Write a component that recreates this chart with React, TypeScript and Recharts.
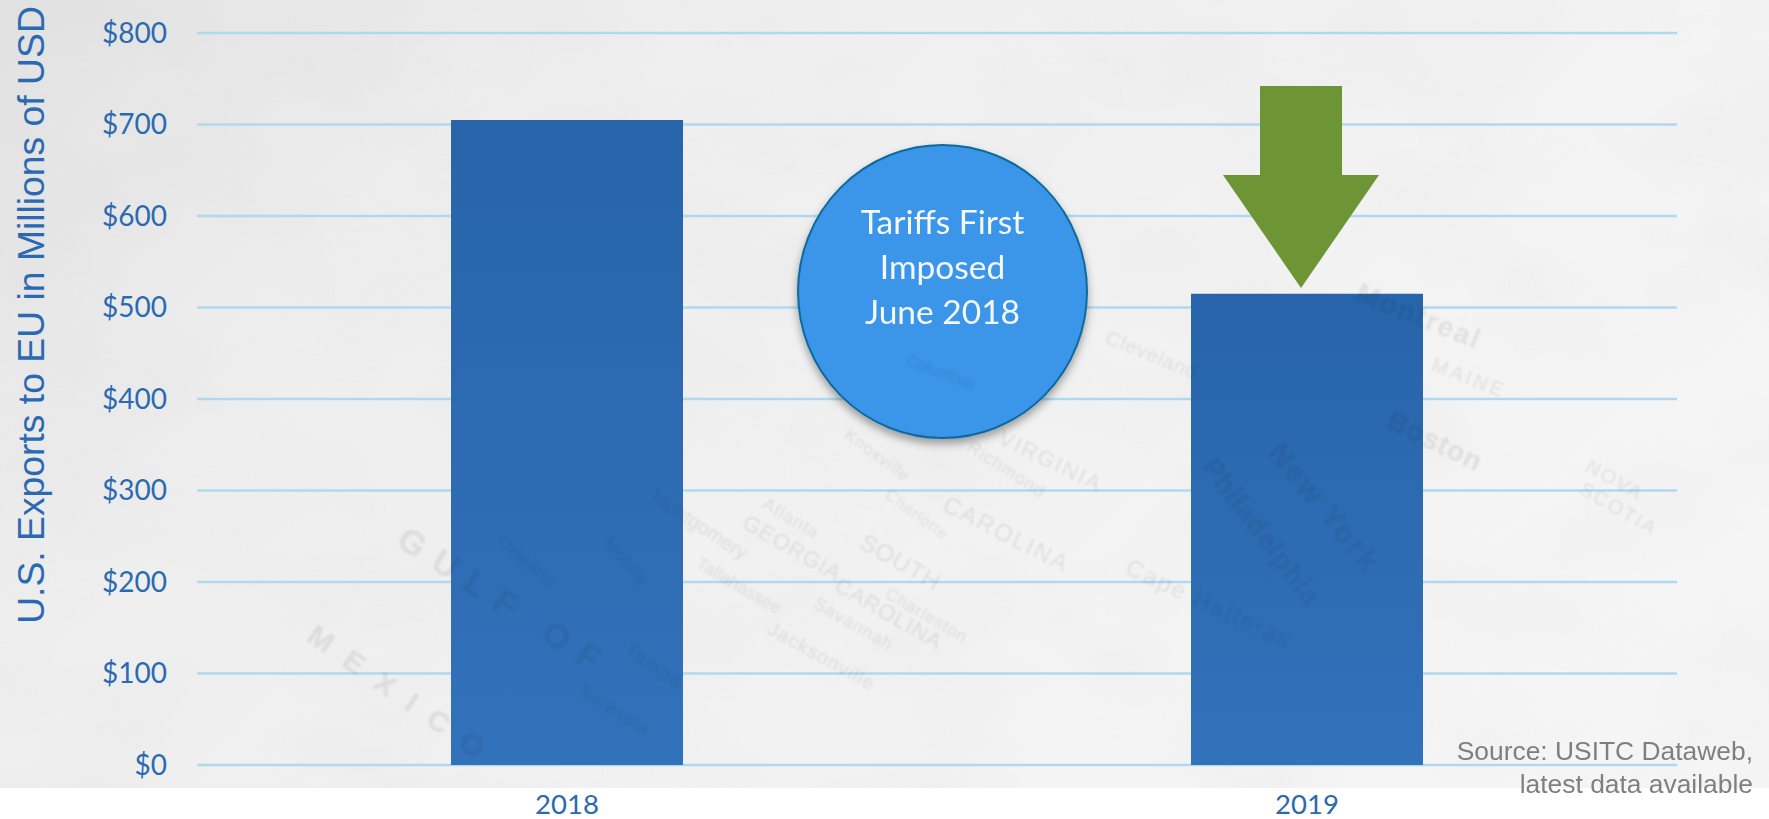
import React from 'react';
import {
  BarChart,
  Bar,
  XAxis,
  YAxis,
  CartesianGrid,
} from 'recharts';

const YEARS = ['2018', '2019'];
const EXPORTS = [705, 515];
const Y_TICKS = [0, 100, 200, 300, 400, 500, 600, 700, 800];

const data = YEARS.map((year, i) => ({ year, exports: EXPORTS[i] }));

const BLUE = '#2b6ab2';
const CALIBRI_LIKE = 'Lato, "Open Sans", sans-serif';
const ARIAL_LIKE = '"Liberation Sans", Arial, sans-serif';

// faint map lettering from the slide background: word, x, y, size, angle, spacing
const MAP_WORDS: [string, number, number, number, number, number][] = [
  ['GULF OF', 395, 545, 34, 33, 14],
  ['MEXICO', 305, 640, 30, 35, 18],
  ['New York', 1267, 453, 30, 51, 3],
  ['Philadelphia', 1201, 467, 28, 53, 1],
  ['Boston', 1385, 427, 28, 26, 1],
  ['Montreal', 1354, 300, 28, 22, 2],
  ['MAINE', 1430, 370, 20, 21, 3],
  ['Cape Hatteras', 1124, 573, 24, 25, 2],
  ['Cleveland', 1104, 343, 20, 22, 1],
  ['Richmond', 966, 450, 18, 33, 1],
  ['VIRGINIA', 997, 443, 22, 26, 2],
  ['CAROLINA', 941, 510, 24, 27, 2],
  ['NOVA', 1584, 470, 20, 30, 2],
  ['SCOTIA', 1578, 493, 20, 30, 2],
  ['GEORGIA', 741, 527, 22, 30, 1],
  ['SOUTH', 858, 547, 24, 30, 1],
  ['CAROLINA', 833, 590, 22, 30, 1],
  ['Atlanta', 761, 507, 18, 31, 1],
  ['Savannah', 812, 607, 18, 30, 1],
  ['Jacksonville', 766, 633, 20, 29, 1],
  ['Charlotte', 884, 497, 16, 36, 1],
  ['Charleston', 884, 597, 17, 30, 1],
  ['Knoxville', 843, 437, 17, 36, 1],
  ['Montgomery', 649, 500, 20, 33, 0],
  ['Mobile', 603, 543, 18, 50, 1],
  ['Orleans', 496, 543, 18, 40, 1],
  ['Tampa', 623, 653, 20, 33, 1],
  ['Sarasota', 578, 693, 18, 33, 1],
  ['Tallahassee', 695, 567, 18, 30, 0],
  ['Columbus', 905, 365, 16, 20, 0],
];

const Background = () => (
  <svg width={1769} height={788} style={{ position: 'absolute', left: 0, top: 0 }}>
    <defs>
      <linearGradient id="bg" x1="0" y1="0" x2="1" y2="0.45">
        <stop offset="0" stopColor="#e2e2e2" />
        <stop offset="0.3" stopColor="#eeeeee" />
        <stop offset="1" stopColor="#f5f5f5" />
      </linearGradient>
      <filter id="mottle" x="0" y="0" width="100%" height="100%">
        <feTurbulence type="fractalNoise" baseFrequency="0.006 0.009" numOctaves="4" seed="7" />
        <feColorMatrix values="0 0 0 0 0.55  0 0 0 0 0.55  0 0 0 0 0.55  1.1 0 0 0 -0.42" />
      </filter>
    </defs>
    <rect width={1769} height={788} fill="url(#bg)" />
    <rect width={1769} height={788} filter="url(#mottle)" opacity={0.16} />
  </svg>
);

const Callouts = () => (
  <svg width={1769} height={819} style={{ position: 'absolute', left: 0, top: 0 }}>
    <defs>
      <filter id="shadow" x="-10%" y="-10%" width="120%" height="125%">
        <feDropShadow dx="0" dy="5" stdDeviation="4" floodColor="#000" floodOpacity="0.35" />
      </filter>
      <filter id="soft" x="-5%" y="-5%" width="110%" height="110%">
        <feGaussianBlur stdDeviation="0.8" />
      </filter>
    </defs>
    <ellipse
      cx={942.5}
      cy={291.5}
      rx={144.5}
      ry={146.5}
      fill="#3a95e9"
      stroke="#0f6a9e"
      strokeWidth={2}
      filter="url(#shadow)"
    />
    <polygon
      points="1260,86 1342,86 1342,175 1379,175 1301,288 1223,175 1260,175"
      fill="#6e9535"
    />
    <g filter="url(#soft)" fontFamily={ARIAL_LIKE} fill="#1c1c1c" opacity={0.085}>
      {MAP_WORDS.map(([word, x, y, size, angle, spacing]) => (
        <text
          key={`${word}-${x}`}
          transform={`translate(${x} ${y}) rotate(${angle})`}
          fontSize={size}
          letterSpacing={spacing}
          fontWeight={size > 26 ? 700 : 400}
        >
          {word}
        </text>
      ))}
    </g>
    <g fontFamily={CALIBRI_LIKE} fontSize={33.5} fill="#f4f8fd" textAnchor="middle">
      <text x={942.5} y={234}>Tariffs First</text>
      <text x={942.5} y={279}>Imposed</text>
      <text x={942.5} y={324}>June 2018</text>
    </g>
    <g fontFamily={ARIAL_LIKE} fontSize={26.4} fill="#7f7f7f" textAnchor="end">
      <text x={1753} y={760}>Source: USITC Dataweb,</text>
      <text x={1753} y={793}>latest data available</text>
    </g>
    <text
      transform="translate(44 315) rotate(-90)"
      fontFamily={ARIAL_LIKE}
      fontSize={37.3}
      fill={BLUE}
      textAnchor="middle"
    >
      U.S. Exports to EU in Millions of USD
    </text>
  </svg>
);

const App: React.FC = () => {
  return (
    <div style={{ position: 'absolute', left: 0, top: 0, width: 1769, height: 819, background: '#fff', overflow: 'hidden' }}>
      <Background />
      <div style={{ position: 'absolute', left: 0, top: 0 }}>
        <BarChart
          width={1769}
          height={819}
          data={data}
          margin={{ top: 33, right: 92, bottom: 0, left: 0 }}
          barSize={232}
        >
          <defs>
            <linearGradient id="barFill" x1="0" y1="0" x2="0" y2="1">
              <stop offset="0" stopColor="#2764aa" />
              <stop offset="1" stopColor="#3272ba" />
            </linearGradient>
          </defs>
          <CartesianGrid horizontal vertical={false} stroke="#b0d8ee" strokeWidth={2.5} />
          <XAxis
            dataKey="year"
            height={54}
            axisLine={false}
            tickLine={false}
            tickMargin={23}
            tick={{ fontFamily: CALIBRI_LIKE, fontSize: 27.5, fill: BLUE }}
          />
          <YAxis
            width={197}
            domain={[0, 800]}
            ticks={Y_TICKS}
            axisLine={false}
            tickLine={false}
            tickMargin={24}
            tickFormatter={(v: number) => `$${v}`}
            tick={{ fontFamily: CALIBRI_LIKE, fontSize: 28, fill: BLUE }}
          />
          <Bar dataKey="exports" fill="url(#barFill)" isAnimationActive={false} />
        </BarChart>
      </div>
      <Callouts />
    </div>
  );
};

export default App;
